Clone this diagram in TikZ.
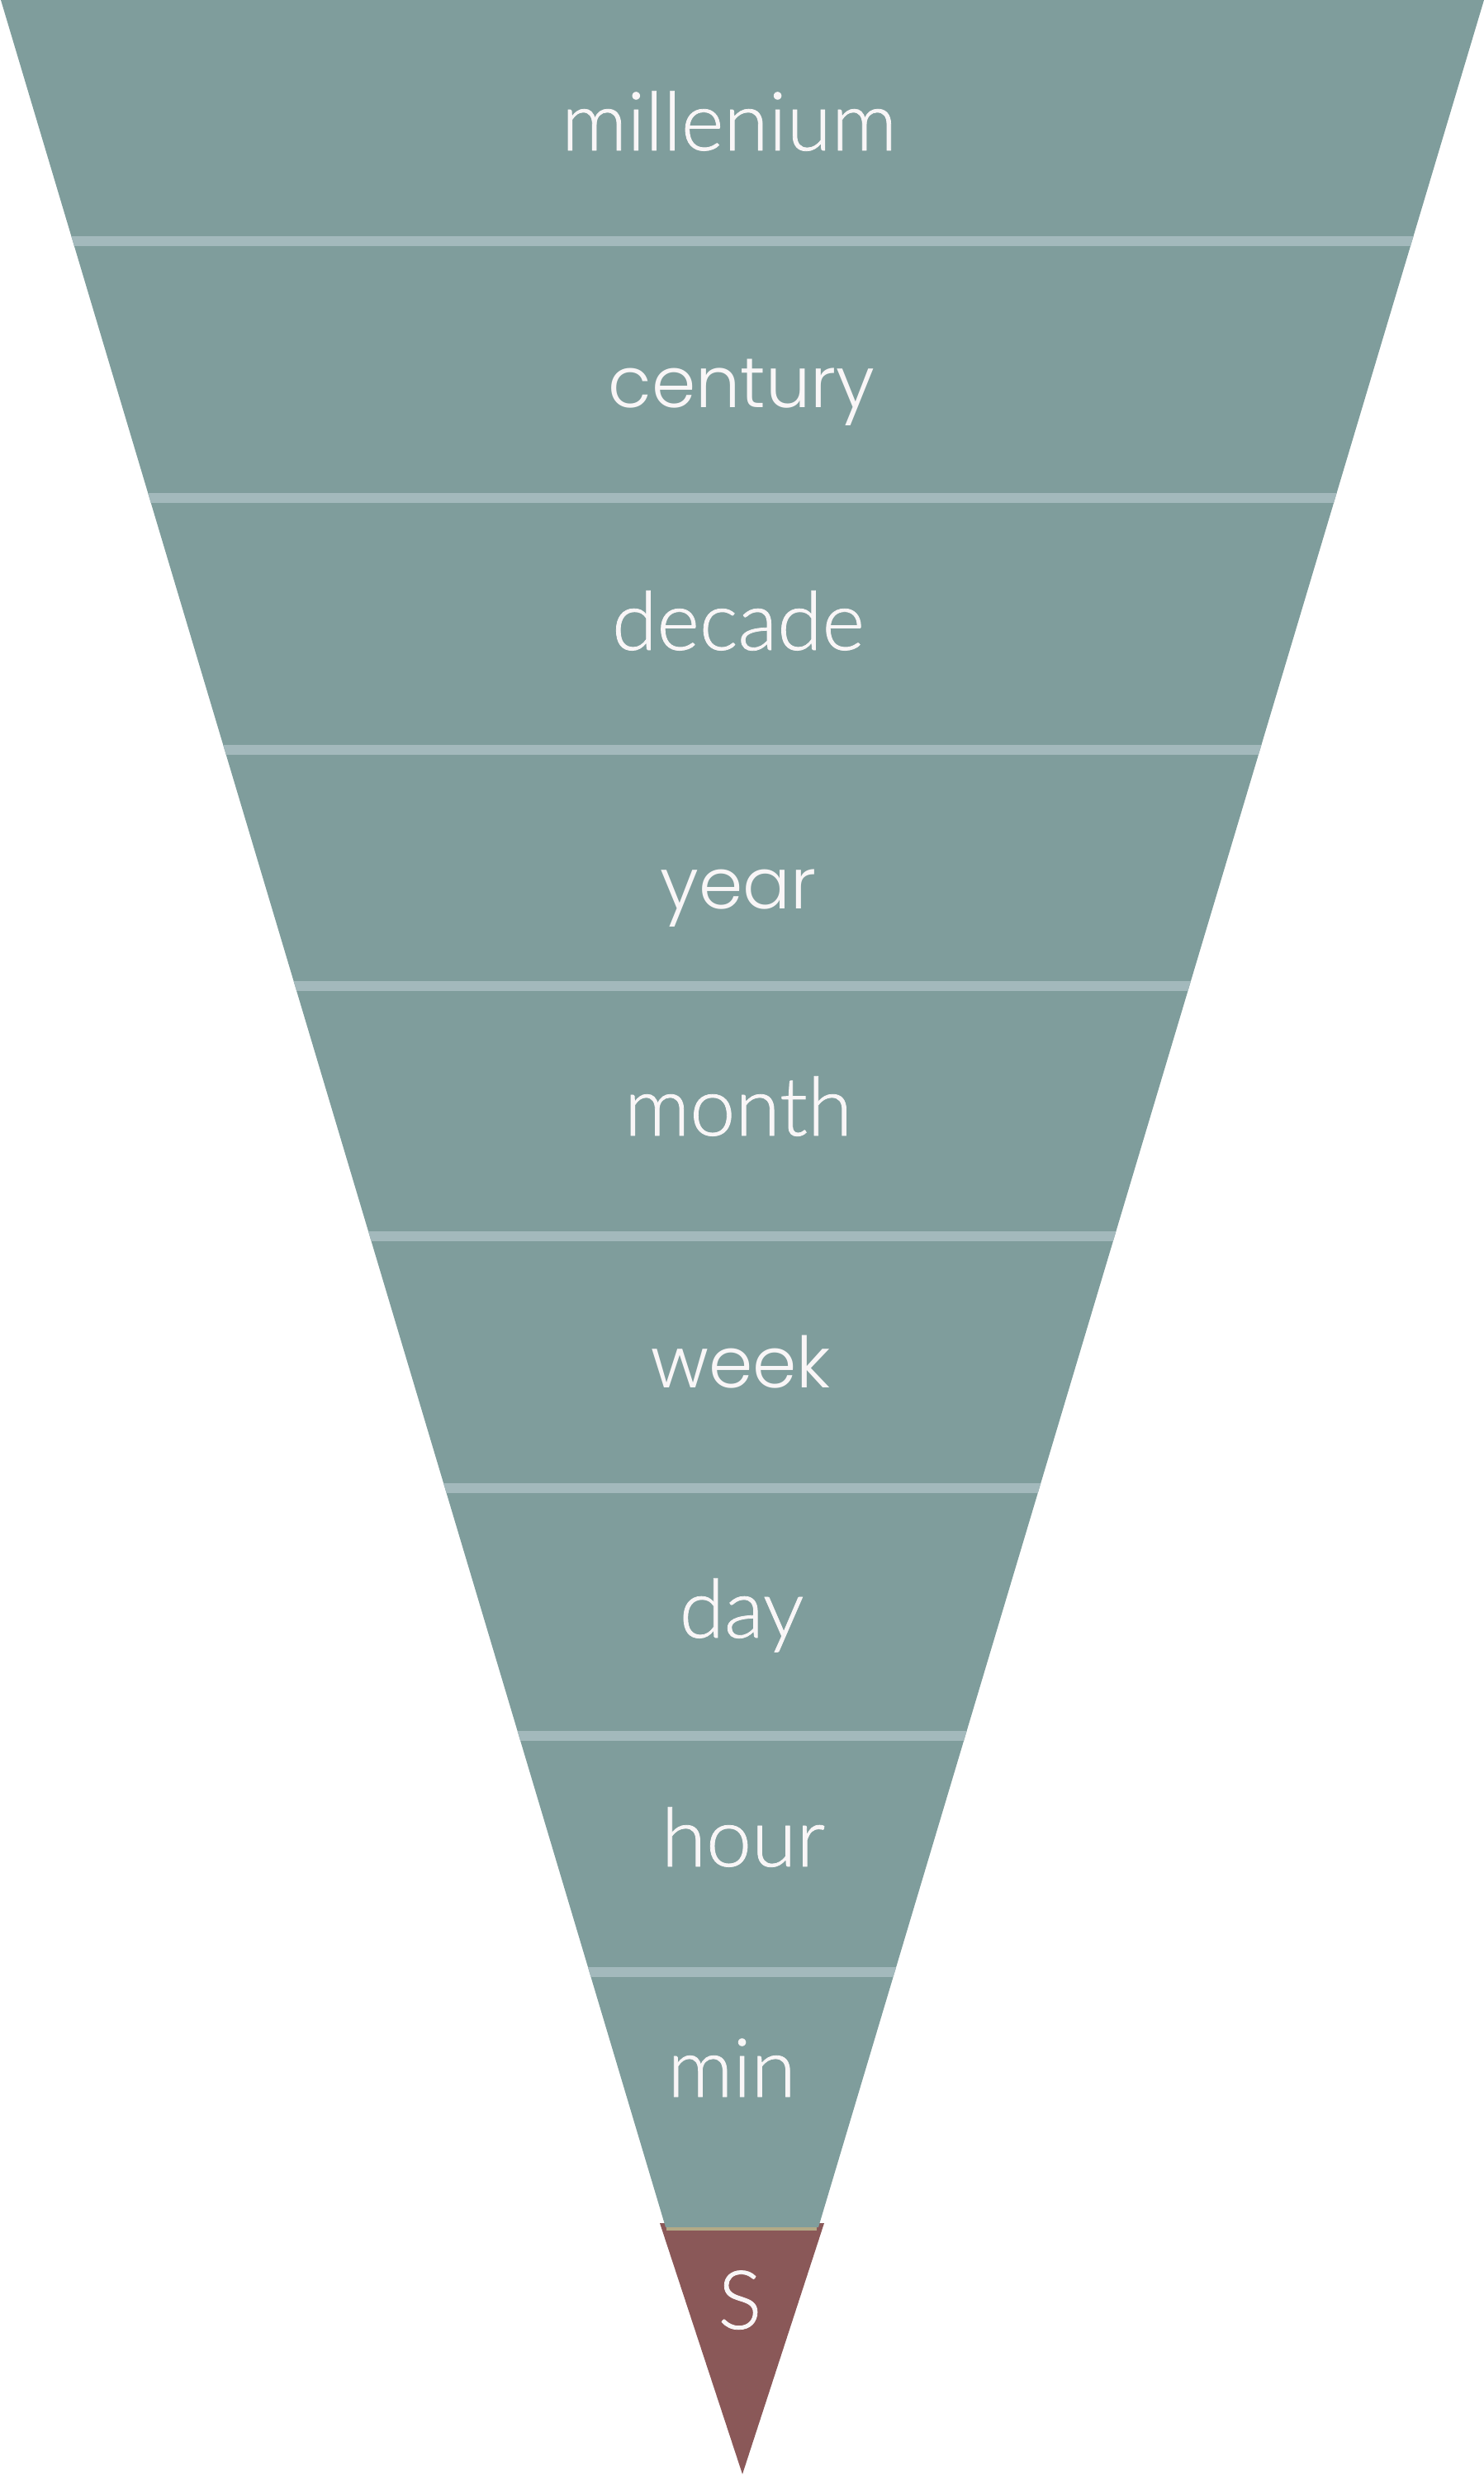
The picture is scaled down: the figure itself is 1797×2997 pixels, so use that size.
\documentclass[tikz,border=0pt]{standalone}
\usepackage{fontspec}
\setmainfont{Lato}
\newfontfamily\avfont{Lato Light}[FakeBold=0.8]
\newfontfamily\mofont{Poppins Light}
\definecolor{teal0}{HTML}{7F9D9C}
\definecolor{sepc}{HTML}{A3B9BC}
\definecolor{redc}{HTML}{8A5858}
\definecolor{goldc}{HTML}{B3AA86}
\definecolor{txt}{HTML}{F9F6F7}
\tikzset{
  lbl/.style={anchor=base, inner sep=0pt, text=txt, font=\avfont\fontsize{99}{99}\selectfont},
  lblm/.style={anchor=base, inner sep=0pt, text=txt, font=\mofont\fontsize{86}{86}\selectfont},
}
\begin{document}
\begin{tikzpicture}[x=1bp,y=-1bp]
\useasboundingbox (0,0) rectangle (1797,2997);
% red tip
\fill[redc] (799,2692) -- (998,2692) -- (899,2996) -- cycle;
% teal funnel
\fill[teal0] (1,0) -- (1797,0) -- (991,2697) -- (806,2697) -- cycle;
\fill[goldc] (807,2697) rectangle (989,2701);
% separators
\begin{scope}
  \clip (1,0) -- (1797,0) -- (991,2697) -- (806,2697) -- cycle;
  \foreach \yy in {292,603,908,1194,1497,1802,2102,2388}{
    \fill[sepc] (0,\yy-6) rectangle (1797,\yy+6);
  }
\end{scope}
% labels
\node[lbl]  (millenium) at (883,182)  {millenium};
\node[lblm] (century)   at (898,493)  {century};
\node[lbl]  (decade)    at (894,787)  {decade};
\node[lblm] (year)      at (894,1100) {year};
\node[lbl]  (month)     at (894,1375) {month};
\node[lblm] (week)      at (897,1680) {week};
\node[lbl]  (day)       at (898,1983) {day};
\node[lbl]  (hour)      at (900,2260) {hour};
\node[lbl]  (min)       at (886,2539) {min};
\node[lbl]  (s)         at (896,2820) {S};
\end{tikzpicture}
\end{document}
